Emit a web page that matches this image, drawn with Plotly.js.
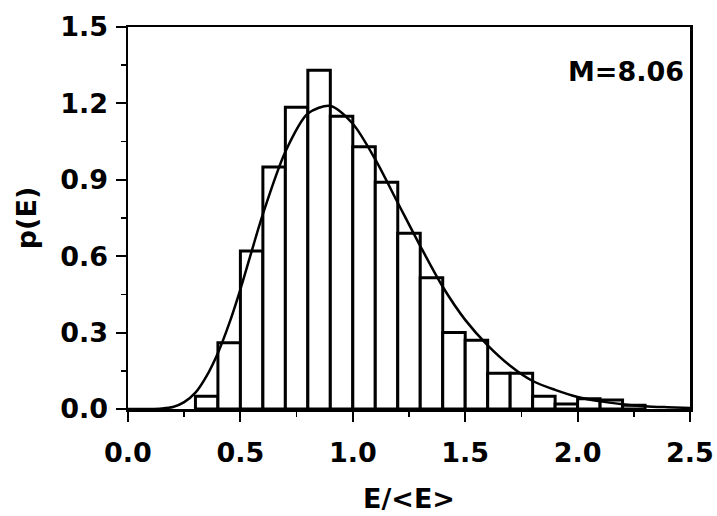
<!DOCTYPE html>
<html>
<head>
<meta charset="utf-8">
<script src="https://cdn.plot.ly/plotly-3.0.1.min.js"></script>
<style>html,body{margin:0;padding:0;background:#fff;}#chart{width:717px;height:516px;}</style>
</head>
<body>
<div id="chart"></div>
<script>
// Histogram bins (centres) and heights
var binCenters = [0.35, 0.45, 0.55, 0.65, 0.75, 0.85, 0.95, 1.05, 1.15, 1.25,
                  1.35, 1.45, 1.55, 1.65, 1.75, 1.85, 1.95, 2.05, 2.15, 2.25];
var binHeights = [0.05, 0.26, 0.62, 0.95, 1.185, 1.33, 1.15, 1.03, 0.89, 0.69,
                  0.515, 0.30, 0.27, 0.14, 0.14, 0.05, 0.02, 0.04, 0.035, 0.015];
// Fitted curve, points
var curveX = [0, 0.1, 0.15, 0.2, 0.25, 0.3, 0.35, 0.4, 0.45, 0.5, 0.6, 0.7, 0.8, 0.9, 1.0,
              1.1, 1.2, 1.3, 1.4, 1.5, 1.6, 1.7, 1.8, 1.9, 2.0, 2.1, 2.2, 2.3, 2.4, 2.5];
var curveY = [0, 0.0, 0.002, 0.008, 0.027, 0.064, 0.13, 0.22, 0.335, 0.47, 0.765, 1.01, 1.16, 1.19, 1.12,
              0.98, 0.81, 0.64, 0.48, 0.35, 0.25, 0.17, 0.11, 0.075, 0.047, 0.03, 0.019, 0.011, 0.007, 0.004];
var xTickVals = [0, 0.5, 1.0, 1.5, 2.0, 2.5];
var yTickVals = [0, 0.3, 0.6, 0.9, 1.2, 1.5];
var annotationText = 'M=8.06';
var xTitle = 'E/&lt;E&gt;';
var yTitle = 'p(E)';

var FONT = 'DejaVu Sans, Liberation Sans, Arial, sans-serif';

var traces = [
  {
    type: 'bar',
    x: binCenters,
    y: binHeights,
    width: 0.1,
    marker: {color: '#ffffff', line: {color: '#000000', width: 3}},
    hoverinfo: 'skip'
  },
  {
    type: 'scatter',
    mode: 'lines',
    x: curveX,
    y: curveY,
    line: {color: '#000000', width: 2.5, shape: 'spline', smoothing: 0.8},
    hoverinfo: 'skip'
  }
];

var axisCommon = {
  showgrid: false,
  zeroline: false,
  showline: true,
  linecolor: '#000000',
  linewidth: 2.5,
  mirror: true,
  ticks: 'outside',
  ticklen: 10,
  tickwidth: 2,
  tickcolor: '#000000',
  tickformat: '.1f',
  tickfont: {family: FONT, size: 27, color: '#000000', weight: 'bold'}
};

var layout = {
  width: 717,
  height: 516,
  margin: {l: 128, r: 27, t: 27, b: 107},
  paper_bgcolor: '#ffffff',
  plot_bgcolor: '#ffffff',
  showlegend: false,
  bargap: 0,
  xaxis: Object.assign({}, axisCommon, {
    range: [0, 2.5],
    tickmode: 'array',
    tickvals: xTickVals,
    ticklabelstandoff: 8,
    minor: {dtick: 0.25, tick0: 0, ticks: 'outside', ticklen: 5, tickwidth: 1.5, tickcolor: '#000000', showgrid: false},
    title: {text: xTitle, font: {family: FONT, size: 27, color: '#000000', weight: 'bold'}, standoff: 22}
  }),
  yaxis: Object.assign({}, axisCommon, {
    range: [0, 1.5],
    tickmode: 'array',
    tickvals: yTickVals,
    ticklabelstandoff: 2,
    minor: {dtick: 0.15, tick0: 0, ticks: 'outside', ticklen: 5, tickwidth: 1.5, tickcolor: '#000000', showgrid: false},
    title: {text: yTitle, font: {family: FONT, size: 27, color: '#000000', weight: 'bold'}, standoff: 16}
  }),
  annotations: [{
    text: annotationText,
    xref: 'paper', yref: 'y',
    x: 1, y: 1.325,
    xanchor: 'right', yanchor: 'middle',
    xshift: -4,
    showarrow: false,
    font: {family: FONT, size: 27, color: '#000000', weight: 'bold'}
  }]
};

Plotly.newPlot('chart', traces, layout, {displayModeBar: false, staticPlot: true});
</script>
</body>
</html>
